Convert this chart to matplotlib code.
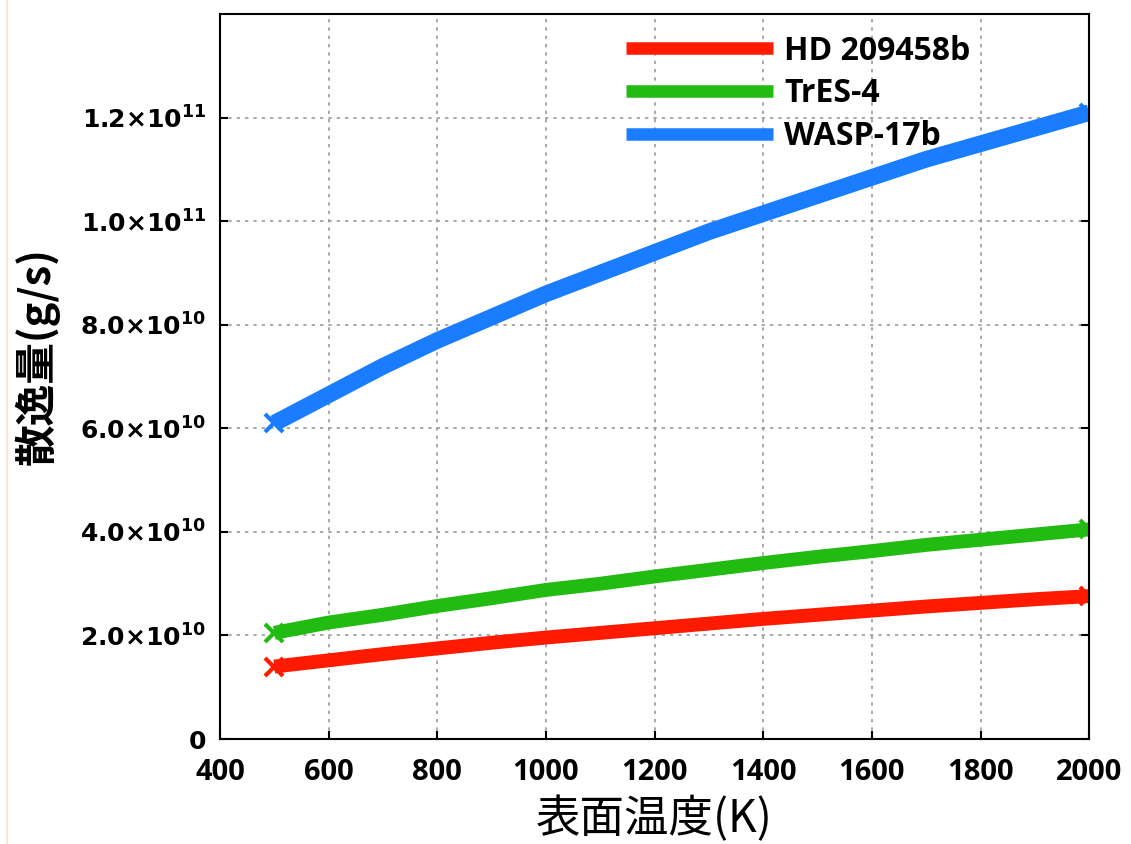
import matplotlib
matplotlib.use("Agg")
import matplotlib.pyplot as plt
from matplotlib.ticker import FuncFormatter, MultipleLocator
from matplotlib.lines import Line2D

# surface temperature (K)
temps = [500, 600, 700, 800, 900, 1000, 1100, 1200, 1300, 1400,
         1500, 1600, 1700, 1800, 1900, 2000]
# escape rate (g/s)
hd209458b = [1.40e10, 1.52e10, 1.64e10, 1.75e10, 1.86e10, 1.96e10, 2.05e10, 2.14e10,
             2.23e10, 2.32e10, 2.40e10, 2.48e10, 2.56e10, 2.63e10, 2.70e10, 2.76e10]
tres4 = [2.05e10, 2.25e10, 2.40e10, 2.57e10, 2.72e10, 2.88e10, 3.00e10, 3.14e10,
         3.27e10, 3.40e10, 3.52e10, 3.63e10, 3.75e10, 3.85e10, 3.95e10, 4.05e10]
wasp17b = [6.10e10, 6.65e10, 7.20e10, 7.70e10, 8.15e10, 8.60e10, 9.00e10, 9.40e10,
           9.80e10, 10.15e10, 10.50e10, 10.85e10, 11.20e10, 11.50e10, 11.80e10, 12.10e10]
yticks = [0, 2e10, 4e10, 6e10, 8e10, 1e11, 1.2e11]

series = [
    ("HD 209458b", hd209458b, "#ff1a00", 10),
    ("TrES-4", tres4, "#22bb11", 10),
    ("WASP-17b", wasp17b, "#1a7dff", 12),
]

plt.rcParams["font.family"] = ["DejaVu Sans"]
plt.rcParams["mathtext.default"] = "bf"

fig = plt.figure(figsize=(11.31, 8.44), dpi=100)
ax = fig.add_axes([0.1945, 0.1244, 0.7685, 0.8586])

for name, vals, color, width in series:
    ax.plot(temps, vals, color=color, lw=width, marker="x", ms=13, mew=3,
            markevery=[0, len(temps) - 1], solid_capstyle="butt", label=name)


def sci_fmt(v, pos):
    if v == 0:
        return "0"
    exp = 0
    m = v
    while m >= 10:
        m /= 10
        exp += 1
    return f"{m:.1f}×10$^{{{exp}}}$"


ax.set_yticks(yticks)
ax.yaxis.set_major_formatter(FuncFormatter(sci_fmt))
ax.xaxis.set_major_locator(MultipleLocator(200))
ax.set_xlim(400, 2000)
ax.set_ylim(0, 1.4e11)

ax.grid(True, color="#999999", linestyle=(0, (2, 3)), lw=1.2)
ax.tick_params(direction="in", length=6, width=1.5, top=False, right=True)
ax.tick_params(axis="y", pad=10)
ax.tick_params(axis="x", pad=14)
for sp in ax.spines.values():
    sp.set_linewidth(1.5)

for lab in ax.get_yticklabels():
    lab.set_fontsize(18)
    lab.set_fontweight("bold")
for lab in ax.get_xticklabels():
    lab.set_family(["Open Sans", "DejaVu Sans"])
    lab.set_fontsize(21)
    lab.set_fontweight("bold")

ax.set_xlabel("表面温度(K)", fontsize=32, family=["Noto Sans CJK JP", "DejaVu Sans"],
              labelpad=6)
ax.set_ylabel("散逸量(g/s)", fontsize=30, fontweight="bold",
              family=["Noto Sans CJK JP", "DejaVu Sans"])
ax.yaxis.set_label_coords(-0.184, 0.528)

leg = ax.legend(loc="upper right", bbox_to_anchor=(0.889, 1.003), frameon=False,
                prop={"family": ["Open Sans", "DejaVu Sans"], "size": 23, "weight": "bold"},
                handlelength=4.6, handletextpad=0.35,
                labelspacing=0.3, borderaxespad=0.3)
for h in leg.legend_handles:
    h.set_marker("")
    h.set_linewidth(9)

fig.add_artist(Line2D([0.006, 0.006], [0.0, 1.0], color="#fbe6d6", lw=1.5))

fig.savefig("out.png", dpi=100)
